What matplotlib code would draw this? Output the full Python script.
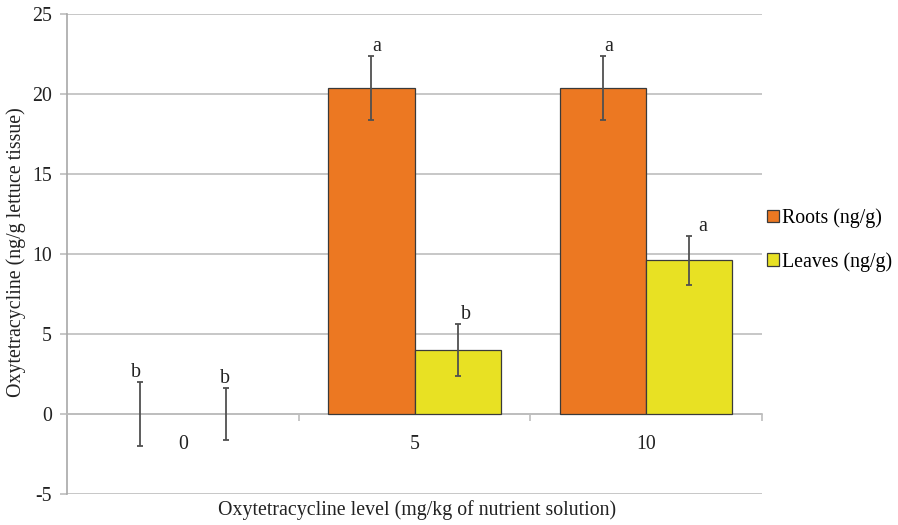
import numpy as np
import matplotlib
matplotlib.use("Agg")
import matplotlib.pyplot as plt
from matplotlib.patches import Patch

plt.rcParams['font.family'] = ['Liberation Serif', 'DejaVu Serif']
plt.rcParams['axes.unicode_minus'] = False

levels = ['0', '5', '10']
roots = [0.0, 20.4, 20.4]
roots_err = [2.0, 2.0, 2.0]
leaves = [0.0, 4.0, 9.6]
leaves_err = [1.6, 1.6, 1.55]
roots_sig = ['b', 'a', 'a']
leaves_sig = ['b', 'b', 'a']

ORANGE = '#EC7822'
YELLOW = '#E8E123'
EDGE = '#3a3a3a'
GRID = '#BDBDBD'
INK = '#505050'
FS = 14.3

fig = plt.figure(figsize=(8.98, 5.25), dpi=100)
ax = fig.add_axes([0.0746, 0.059, 0.774, 0.914])

x = np.arange(len(levels))
w = 0.372
err_kw = dict(ecolor=INK, elinewidth=1.3, capsize=2.5, capthick=1.3)
# no outline on empty bars, otherwise a flat line shows at zero
r_lw = [0 if v == 0 else 0.9 for v in roots]
l_lw = [0 if v == 0 else 0.9 for v in leaves]
ax.bar(x - w / 2, roots, w, yerr=roots_err, color=ORANGE, edgecolor=EDGE,
       linewidth=r_lw, error_kw=err_kw, zorder=3)
ax.bar(x + w / 2, leaves, w, yerr=leaves_err, color=YELLOW, edgecolor=EDGE,
       linewidth=l_lw, error_kw=err_kw, zorder=3)

# significance letters just above each error bar cap
r_dx = [-3, 4, 4]
l_dx = [-1, 6, 10]
for i in range(len(levels)):
    ax.annotate(roots_sig[i], (x[i] - w / 2, roots[i] + roots_err[i]),
                xytext=(r_dx[i], 0), textcoords='offset points',
                ha='center', va='bottom', fontsize=FS, color='#222222')
    ax.annotate(leaves_sig[i], (x[i] + w / 2, leaves[i] + leaves_err[i]),
                xytext=(l_dx[i], 0), textcoords='offset points',
                ha='center', va='bottom', fontsize=FS, color='#222222')

ax.set_xlim(-0.5, 2.5)
ax.set_ylim(-5, 25)
ax.set_yticks(np.arange(-5, 26, 5))
ax.yaxis.grid(True, color=GRID, linewidth=1.2, zorder=0)
ax.set_axisbelow(True)

for s in ['top', 'right']:
    ax.spines[s].set_visible(False)
ax.spines['left'].set_color('#A8A8A8')
ax.spines['left'].set_linewidth(1.2)
ax.spines['bottom'].set_position(('data', 0))
ax.spines['bottom'].set_color(GRID)
ax.spines['bottom'].set_linewidth(1.2)

ax.set_xticks(x)
ax.set_xticklabels(levels)
ax.set_xticks([0.5, 1.5, 2.5], minor=True)
ax.tick_params(axis='x', which='major', length=0, pad=15, labelsize=FS, labelcolor='#222222')
ax.tick_params(axis='x', which='minor', length=5, color=GRID, width=1.2)
ax.tick_params(axis='y', length=5, color=GRID, width=1.2, labelsize=FS,
               labelcolor='#222222', pad=6)

ax.set_ylabel('Oxytetracycline (ng/g lettuce tissue)', fontsize=FS, color='#222222')
ax.yaxis.set_label_coords(-0.059, 0.504)
fig.text(0.464, 0.028, 'Oxytetracycline level (mg/kg of nutrient solution)',
         ha='center', va='center', fontsize=FS, color='#222222')

handles = [Patch(facecolor=ORANGE, edgecolor=EDGE, linewidth=0.9, label='Roots (ng/g)'),
           Patch(facecolor=YELLOW, edgecolor=EDGE, linewidth=0.9, label='Leaves (ng/g)')]
fig.legend(handles=handles, loc='center left', bbox_to_anchor=(0.845, 0.543),
           frameon=False, fontsize=FS, handlelength=0.6, handleheight=0.6,
           handletextpad=0.15, labelspacing=1.2, borderaxespad=0)

fig.savefig('out.png', dpi=100)
